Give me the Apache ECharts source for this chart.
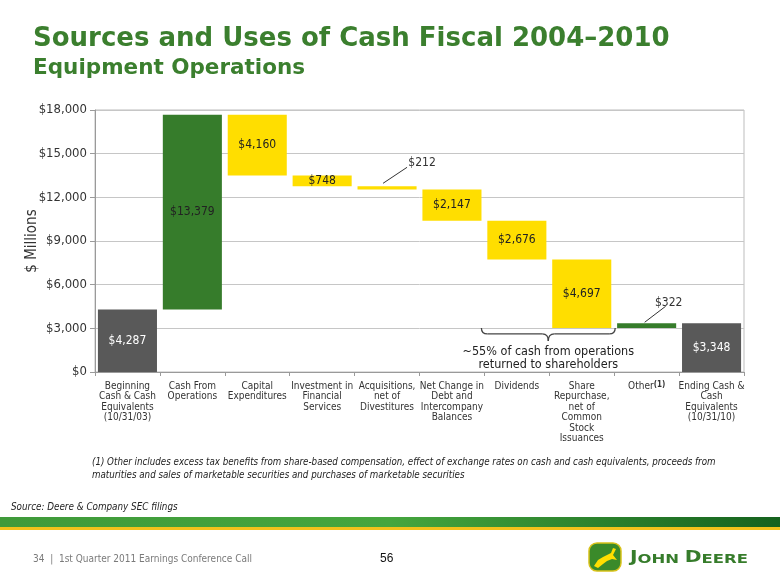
<!DOCTYPE html>
<html><head><meta charset="utf-8">
<script src="https://cdn.jsdelivr.net/npm/echarts@6/dist/echarts.min.js"></script>
<style>html,body{margin:0;padding:0;background:#fff}#c{width:780px;height:585px}</style>
</head><body><div id="c"></div>
<script>
const categories = [
  'Beginning\nCash & Cash\nEquivalents\n(10/31/03)',
  'Cash From\nOperations',
  'Capital\nExpenditures',
  'Investment in\nFinancial\nServices',
  'Acquisitions,\nnet of\nDivestitures',
  'Net Change in\nDebt and\nIntercompany\nBalances',
  'Dividends',
  'Share\nRepurchase,\nnet of\nCommon\nStock\nIssuances',
  'Other{sup|(1)}',
  'Ending Cash &\nCash\nEquivalents\n(10/31/10)'
];
const amounts = [4287, 13379, -4160, -748, -212, -2147, -2676, -4697, 322, 3348];
const kinds = ['total', 'inc', 'dec', 'dec', 'dec', 'dec', 'dec', 'dec', 'inc', 'total'];
const yMin = 0, yMax = 18000, yStep = 3000;

const COL = { total: '#595959', inc: '#367C2B', dec: '#FFDE00' };
const FONT = "'DejaVu Sans Condensed', 'DejaVu Sans', sans-serif";

// build waterfall base / height from the amounts
let running = 0;
const baseVals = [], heightVals = [], topVals = [];
amounts.forEach((v, i) => {
  if (kinds[i] === 'total') { baseVals.push(0); heightVals.push(Math.abs(v)); running = v; }
  else if (v >= 0) { baseVals.push(running); heightVals.push(v); running += v; }
  else { running += v; baseVals.push(running); heightVals.push(-v); }
  topVals.push(baseVals[i] + heightVals[i]);
});

const fmt = v => '$' + Math.round(v).toLocaleString('en-US');
const calloutIdx = [4, 8];

const barData = heightVals.map((h, i) => ({
  value: h,
  itemStyle: { color: COL[kinds[i]] },
  label: { color: calloutIdx.includes(i) ? '#333333' : (kinds[i] === 'total' ? '#ffffff' : '#222222') }
}));

const chart = echarts.init(document.getElementById('c'), null, { renderer: 'canvas' });
chart.setOption({
  animation: false,
  backgroundColor: '#ffffff',
  grid: { left: 95, right: 36, top: 110, bottom: 213, show: true, borderColor: '#bdbdbd', borderWidth: 1 },
  xAxis: {
    type: 'category',
    data: categories,
    axisLine: { lineStyle: { color: '#9a9a9a' } },
    axisTick: { show: true, alignWithLabel: false, length: 4, lineStyle: { color: '#9a9a9a' } },
    axisLabel: {
      interval: 0, color: '#333', fontFamily: FONT, fontSize: 10, lineHeight: 10.5, margin: 9,
      rich: { sup: { fontFamily: FONT, fontSize: 8, fontWeight: 'bold', color: '#333', verticalAlign: 'top', padding: [0, 0, 5, 0] } }
    }
  },
  yAxis: {
    type: 'value', min: yMin, max: yMax, interval: yStep,
    name: '$ Millions', nameLocation: 'middle', nameGap: 63, nameMoveOverlap: false,
    nameTextStyle: { fontFamily: FONT, fontSize: 15, color: '#333', verticalAlign: 'middle' },
    axisLine: { show: true, lineStyle: { color: '#9a9a9a' } },
    axisTick: { show: true, length: 5, lineStyle: { color: '#9a9a9a' } },
    axisLabel: { color: '#333', fontFamily: FONT, fontSize: 13, margin: 8, formatter: v => fmt(v) },
    splitLine: { lineStyle: { color: '#c6c6c6' } }
  },
  series: [
    {
      type: 'bar', stack: 'w', silent: true,
      data: baseVals,
      itemStyle: { color: 'transparent' },
      barCategoryGap: '9%'
    },
    {
      type: 'bar', stack: 'w',
      data: barData,
      barCategoryGap: '9%',
      label: {
        show: true, position: 'inside', fontFamily: FONT, fontSize: 12,
        formatter: p => fmt(p.value)
      },
      labelLayout: function (p) {
        if (p.dataIndex === 4) return { dx: 35, dy: -25 };
        if (p.dataIndex === 8) return { dx: 22, dy: -23 };
        return {};
      }
    }
  ]
});

// annotations positioned via the chart's own scales
const px = i => chart.convertToPixel({ xAxisIndex: 0 }, i);
const py = v => chart.convertToPixel({ yAxisIndex: 0 }, v);
const bw = px(7) - px(6);
const L = px(6) - bw / 2 - 3, R = px(7) + bw / 2 + 1;
const T = py(baseVals[7]);
const M = (L + R) / 2;
const lc = { stroke: '#444', lineWidth: 1.3, fill: 'none' };

const x4 = px(4), t4 = py(topVals[4]);
const x8 = px(8), t8 = py(topVals[8]);

// logo word-mark pieces (small caps), laid out by measured widths
const ctx = document.createElement('canvas').getContext('2d');
const bigF = "bold 16px 'DejaVu Sans', sans-serif", smallF = "bold 13px 'DejaVu Sans', sans-serif";
const pieces = [['J', bigF], ['OHN ', smallF], ['D', bigF], ['EERE', smallF]];
let cur = 0;
const logoChildren = pieces.map(([t, f]) => {
  ctx.font = f;
  const el = { type: 'text', x: cur, y: 0, style: { text: t, font: f, fill: '#367C2B', textVerticalAlign: 'bottom' } };
  cur += ctx.measureText(t).width;
  return el;
});

chart.setOption({
  graphic: [
    { type: 'text', x: 33, y: 26, style: { text: 'Sources and Uses of Cash Fiscal 2004\u20132010', fill: '#3B7F2E', font: "bold 26px 'DejaVu Sans', sans-serif" } },
    { type: 'text', x: 33, y: 57, style: { text: 'Equipment Operations', fill: '#3B7F2E', font: "bold 21.5px 'DejaVu Sans', sans-serif" } },
    // callout leader lines
    { type: 'line', shape: { x1: x4 - 4, y1: t4 - 3, x2: x4 + 20, y2: t4 - 19 }, style: { stroke: '#333', lineWidth: 1 } },
    { type: 'line', shape: { x1: x8 - 2, y1: t8 - 1, x2: x8 + 19, y2: t8 - 17 }, style: { stroke: '#333', lineWidth: 1 } },
    // brace
    { type: 'bezierCurve', shape: { x1: L, y1: T, cpx1: L, cpy1: T + 6, x2: L + 6, y2: T + 6 }, style: lc },
    { type: 'line', shape: { x1: L + 6, y1: T + 6, x2: M - 6, y2: T + 6 }, style: lc },
    { type: 'bezierCurve', shape: { x1: M - 6, y1: T + 6, cpx1: M, cpy1: T + 6, x2: M, y2: T + 13 }, style: lc },
    { type: 'bezierCurve', shape: { x1: M, y1: T + 13, cpx1: M, cpy1: T + 6, x2: M + 6, y2: T + 6 }, style: lc },
    { type: 'line', shape: { x1: M + 6, y1: T + 6, x2: R - 6, y2: T + 6 }, style: lc },
    { type: 'bezierCurve', shape: { x1: R - 6, y1: T + 6, cpx1: R, cpy1: T + 6, x2: R, y2: T }, style: lc },
    { type: 'text', x: M, y: T + 17, style: { text: '~55% of cash from operations\nreturned to shareholders', fill: '#222', textAlign: 'center', font: "12.5px 'DejaVu Sans Condensed', 'DejaVu Sans', sans-serif", lineHeight: 13 } },
    { type: 'text', x: 92, y: 456, style: { text: '(1) Other includes excess tax benefits from share-based compensation, effect of exchange rates on cash and cash equivalents, proceeds from\nmaturities and sales of marketable securities and purchases of marketable securities', fill: '#222', font: "italic 9.7px 'DejaVu Sans Condensed', 'DejaVu Sans', sans-serif", lineHeight: 13 } },
    { type: 'text', x: 11, y: 502, style: { text: 'Source: Deere & Company SEC filings', fill: '#222', font: "italic 9.8px 'DejaVu Sans Condensed', 'DejaVu Sans', sans-serif" } },
    { type: 'rect', shape: { x: 0, y: 517, width: 780, height: 10 }, style: { fill: { type: 'linear', x: 0, y: 0, x2: 1, y2: 0, colorStops: [{ offset: 0, color: '#3f9a3a' }, { offset: 0.5, color: '#45a63e' }, { offset: 1, color: '#15621e' }] } } },
    { type: 'rect', shape: { x: 0, y: 527, width: 780, height: 3 }, style: { fill: '#F2C21B' } },
    { type: 'text', x: 33, y: 554, style: { text: '34  |  1st Quarter 2011 Earnings Conference Call', fill: '#7a7a7a', font: "10px 'DejaVu Sans Condensed', 'DejaVu Sans', sans-serif" } },
    { type: 'text', x: 380, y: 553, style: { text: '56', fill: '#111', font: "12px 'Liberation Sans', sans-serif" } },
    // logo
    { type: 'rect', shape: { x: 589, y: 543, width: 32, height: 28, r: 8 }, style: { fill: '#3a8a2a', stroke: '#d8c21a', lineWidth: 1.5 } },
    { type: 'polygon', shape: { points: [[594, 566], [598, 560], [603, 557], [607, 555], [611, 553], [613, 548], [616, 549], [613, 555], [617, 560], [612, 559], [607, 561], [603, 564], [598, 568]] }, style: { fill: '#FFDE00' } },
    { type: 'group', x: 630, y: 566, scaleX: 118 / cur, children: logoChildren }
  ]
});
</script>
</body></html>
